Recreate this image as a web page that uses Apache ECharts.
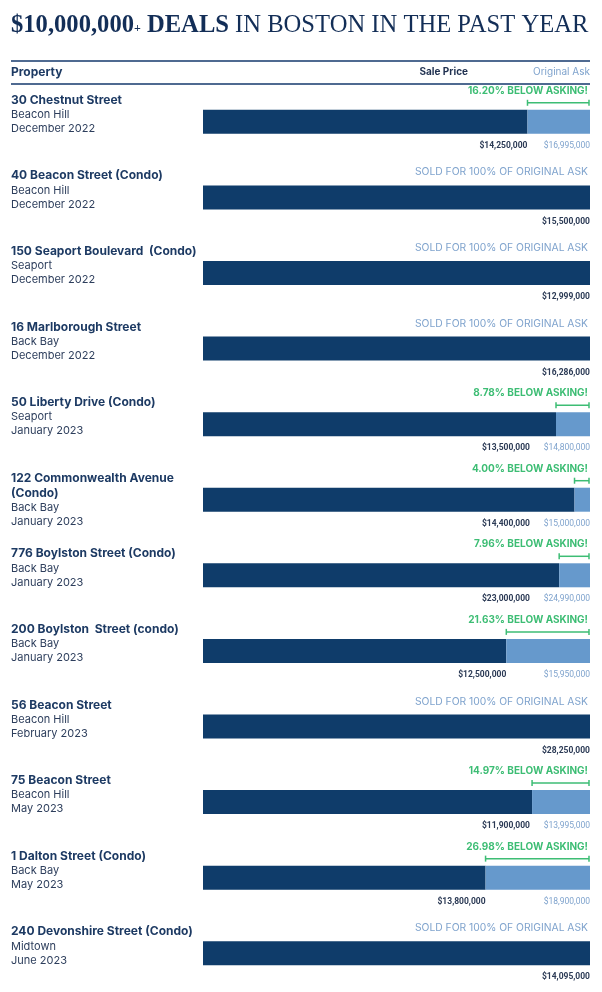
<!DOCTYPE html>
<html>
<head>
<meta charset="utf-8">
<script src="https://cdn.jsdelivr.net/npm/echarts@6/dist/echarts.min.js"></script>
<style>
  html, body { margin: 0; padding: 0; background: #ffffff; }
  #chart { width: 602px; height: 992px; }
</style>
</head>
<body>
<div id="chart"></div>
<script>
    var properties = ['30 Chestnut Street', '40 Beacon Street (Condo)', '150 Seaport Boulevard  (Condo)', '16 Marlborough Street',
        '50 Liberty Drive (Condo)', '122 Commonwealth Avenue (Condo)', '776 Boylston Street (Condo)', '200 Boylston  Street (condo)',
        '56 Beacon Street', '75 Beacon Street', '1 Dalton Street (Condo)', '240 Devonshire Street (Condo)'];
    var neighborhoods = ['Beacon Hill', 'Beacon Hill', 'Seaport', 'Back Bay', 'Seaport', 'Back Bay',
        'Back Bay', 'Back Bay', 'Beacon Hill', 'Beacon Hill', 'Back Bay', 'Midtown'];
    var dates = ['December 2022', 'December 2022', 'December 2022', 'December 2022', 'January 2023', 'January 2023',
        'January 2023', 'January 2023', 'February 2023', 'May 2023', 'May 2023', 'June 2023'];
    var salePrices = [14250000, 15500000, 12999000, 16286000, 13500000, 14400000,
        23000000, 12500000, 28250000, 11900000, 13800000, 14095000];
    var askPrices = [16995000, 15500000, 12999000, 16286000, 14800000, 15000000,
        24990000, 15950000, 28250000, 13995000, 18900000, 14095000];
    var belowAsking = ['16.20%', null, null, null, '8.78%', '4.00%', '7.96%', '21.63%', null, '14.97%', '26.98%', null];

    var NAVY = '#0f3c6a';
    var LIGHT = '#6699cc';
    var LIGHT_TEXT = '#7fa3cd';
    var GREEN = '#3dbd74';
    var BAR = 24;
    var FONT = 'Inter, "Noto Sans", sans-serif';
    var SERIF = '"Liberation Serif", serif';
    var NAME_FONT = 'bold 12px ' + FONT;
    var NAME_WIDTH = 195;

    var saleShare = salePrices.map(function (v, i) { return v / askPrices[i]; });
    var askRest = saleShare.map(function (v) { return 1 - v; });

    var measure = document.createElement('canvas').getContext('2d');
    measure.font = NAME_FONT;

    // break a long property name onto two lines like the original layout
    function wrapName(name) {
        var words = name.split(' ');
        var lines = [];
        var cur = '';
        words.forEach(function (w) {
            var next = cur === '' ? w : cur + ' ' + w;
            if (cur !== '' && measure.measureText(next).width > NAME_WIDTH) {
                lines.push(cur);
                cur = w;
            } else {
                cur = next;
            }
        });
        lines.push(cur);
        return lines;
    }

    function money(v) {
        return '$' + v.toLocaleString('en-US');
    }

    function txt(s, x, y, align, color, font) {
        return {
            type: 'text',
            style: { text: s, x: x, y: y, align: align, verticalAlign: 'middle', fill: color, font: font }
        };
    }

    function renderNotes(params, api) {
        var i = params.dataIndex;
        var yC = api.coord([0, i])[1];
        var xEnd = api.coord([1, i])[0];
        var xSale = api.coord([saleShare[i], i])[0];
        var top = yC - BAR / 2;
        var bottom = yC + BAR / 2;
        var kids = [];
        if (!belowAsking[i]) {
            kids.push(txt('SOLD FOR 100% OF ORIGINAL ASK', xEnd - 2, top - 13, 'right', LIGHT_TEXT, '10.3px ' + FONT));
            kids.push(txt(money(salePrices[i]), xEnd, bottom + 12, 'right', '#2b3a55', 'bold 8.5px Roboto, sans-serif'));
        } else {
            var yb = top - 7;
            kids.push(txt(belowAsking[i] + ' BELOW ASKING!', xEnd - 2, top - 19, 'right', GREEN, 'bold 10px ' + FONT));
            kids.push({ type: 'line', shape: { x1: xSale, y1: yb, x2: xEnd - 1, y2: yb }, style: { stroke: GREEN, lineWidth: 1.5 } });
            kids.push({ type: 'line', shape: { x1: xSale, y1: yb - 3, x2: xSale, y2: yb + 3 }, style: { stroke: GREEN, lineWidth: 1.5 } });
            kids.push({ type: 'line', shape: { x1: xEnd - 1, y1: yb - 3, x2: xEnd - 1, y2: yb + 3 }, style: { stroke: GREEN, lineWidth: 1.5 } });
            kids.push(txt(money(askPrices[i]), xEnd, bottom + 12, 'right', LIGHT_TEXT, '8.5px Roboto, sans-serif'));
            kids.push(txt(money(salePrices[i]), Math.min(xSale, xEnd - 60), bottom + 12, 'right', '#2b3a55', 'bold 8.5px Roboto, sans-serif'));
        }
        return { type: 'group', children: kids };
    }

    var chart = echarts.init(document.getElementById('chart'));
    var option = {
        backgroundColor: '#ffffff',
        animation: false,
        title: {
            left: 11,
            top: 13,
            padding: 0,
            text: '{b|$10,000,000}{p|+}{b| DEALS}{r| IN BOSTON IN THE PAST YEAR}',
            textStyle: {
                fontWeight: 'normal',
                rich: {
                    b: { fontFamily: SERIF, fontWeight: 'bold', fontSize: 24.6, color: '#132e57' },
                    p: { fontFamily: SERIF, fontWeight: 'bold', fontSize: 12, color: '#132e57', verticalAlign: 'bottom', padding: [0, 0, 3, 0] },
                    r: { fontFamily: SERIF, fontWeight: 'normal', fontSize: 24.6, color: '#132e57' }
                }
            }
        },
        graphic: [
            { type: 'rect', shape: { x: 11, y: 60, width: 579, height: 2 }, style: { fill: '#4f6a91' } },
            { type: 'rect', shape: { x: 11, y: 83, width: 579, height: 2 }, style: { fill: '#4f6a91' } },
            { type: 'text', style: { text: 'Property', x: 11, y: 72, verticalAlign: 'middle', fill: '#1d3a63', font: 'bold 12px ' + FONT } },
            { type: 'text', style: { text: 'Sale Price', x: 468, y: 72, align: 'right', verticalAlign: 'middle', fill: '#1f3050', font: 'bold 10px ' + FONT } },
            { type: 'text', style: { text: 'Original Ask', x: 590, y: 72, align: 'right', verticalAlign: 'middle', fill: LIGHT_TEXT, font: '10px ' + FONT } }
        ],
        grid: { left: 203, right: 12, top: 84, bottom: 1 },
        xAxis: { type: 'value', min: 0, max: 1, show: false },
        yAxis: {
            type: 'category',
            inverse: true,
            data: properties,
            axisLine: { show: false },
            axisTick: { show: false },
            axisLabel: {
                align: 'left',
                margin: 192,
                formatter: function (value, index) {
                    var lines = wrapName(value);
                    var s = lines.map(function (l) { return '{name|' + l + '}'; }).join('\n');
                    s += '\n{sub|' + neighborhoods[index] + '}\n{sub|' + dates[index] + '}';
                    if (lines.length === 1) {
                        s += '\n{gap| }';
                    }
                    return s;
                },
                rich: {
                    name: { fontFamily: FONT, fontWeight: 'bold', fontSize: 12, color: '#1d3a63', lineHeight: 15 },
                    sub: { fontFamily: FONT, fontSize: 11, color: '#2d3e5c', lineHeight: 14 },
                    gap: { fontSize: 4, lineHeight: 15 }
                }
            }
        },
        series: [
            {
                name: 'Sale Price', type: 'bar', stack: 'deal', barWidth: BAR,
                itemStyle: { color: NAVY }, data: saleShare, silent: true
            },
            {
                name: 'Original Ask', type: 'bar', stack: 'deal', barWidth: BAR,
                itemStyle: { color: LIGHT }, data: askRest, silent: true
            },
            {
                type: 'custom', renderItem: renderNotes, silent: true, clip: false, z: 5,
                encode: { x: 0, y: 1 },
                data: properties.map(function (p, i) { return [0, i]; })
            }
        ]
    };
    chart.setOption(option);
</script>
</body>
</html>
